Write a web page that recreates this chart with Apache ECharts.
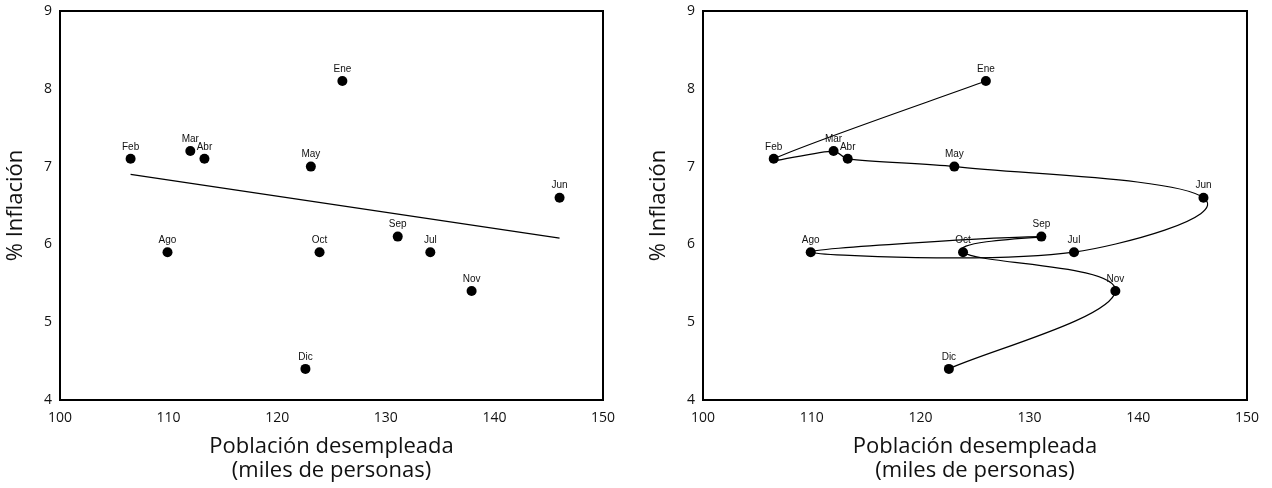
<!DOCTYPE html>
<html>
<head>
<meta charset="utf-8">
<script src="https://cdn.jsdelivr.net/npm/echarts@6/dist/echarts.min.js"></script>
<style>
  html, body { margin: 0; padding: 0; background: #fff; }
  #chart { width: 1272px; height: 488px; }
</style>
</head>
<body>
<div id="chart"></div>
<script>
// Monthly unemployment (thousands of people) and inflation (%)
const months = ['Ene', 'Feb', 'Mar', 'Abr', 'May', 'Jun', 'Jul', 'Ago', 'Sep', 'Oct', 'Nov', 'Dic'];
const unemployed = [126.0, 106.5, 112.0, 113.3, 123.1, 146.0, 134.1, 109.9, 131.1, 123.9, 137.9, 122.6];
const inflation = [8.1, 7.1, 7.2, 7.1, 7.0, 6.6, 5.9, 5.9, 6.1, 5.9, 5.4, 4.4];
// Fitted trend line endpoints [x, y]
const trendLine = [[106.5, 6.90], [146.0, 6.08]];

const xTitle = 'Población desempleada\n(miles de personas)';
const yTitle = '% Inflación';
const axisFont = '"Open Sans", Lato, sans-serif';
const pointFont = '"Liberation Sans", Arial, sans-serif';

const points = months.map((m, i) => ({ name: m, value: [unemployed[i], inflation[i]] }));

function makeX(gridIndex) {
  return {
    type: 'value', gridIndex, min: 100, max: 150, interval: 10,
    axisLine: { show: true, onZero: false, lineStyle: { color: '#000', width: 2 } },
    axisTick: { show: false },
    splitLine: { show: false },
    axisLabel: { color: '#111', fontFamily: axisFont, fontSize: 14, margin: 11 },
    name: xTitle, nameLocation: 'middle', nameGap: 35,
    nameTextStyle: { color: '#111', fontFamily: axisFont, fontSize: 22, lineHeight: 24 }
  };
}
function makeY(gridIndex) {
  return {
    type: 'value', gridIndex, min: 4, max: 9, interval: 1,
    axisLine: { show: true, onZero: false, lineStyle: { color: '#000', width: 2 } },
    axisTick: { show: false },
    splitLine: { show: false },
    axisLabel: { color: '#111', fontFamily: axisFont, fontSize: 14, margin: 8 },
    name: yTitle, nameLocation: 'middle', nameGap: 33,
    nameTextStyle: { color: '#111', fontFamily: axisFont, fontSize: 22 }
  };
}

const pointLabel = {
  show: true, position: 'top', distance: 2,
  formatter: p => p.name,
  color: '#111', fontFamily: pointFont, fontSize: 10
};

// Cardinal-spline segment from month i to month i+1, in pixel space.
// Handle lengths are limited to a share of the segment they shape.
const TENSION = 0.23;
const MAX_HANDLE = 0.3;
function handle(from, to, segLen) {
  let hx = (to[0] - from[0]) * TENSION, hy = (to[1] - from[1]) * TENSION;
  const len = Math.hypot(hx, hy), cap = segLen * MAX_HANDLE;
  if (len > cap && len > 0) { hx *= cap / len; hy *= cap / len; }
  return [hx, hy];
}
function renderPath(params, api) {
  const i = params.dataIndex;
  const n = months.length;
  if (i >= n - 1) return null;
  const clampIdx = j => Math.max(0, Math.min(n - 1, j));
  const c = j => api.coord([unemployed[clampIdx(j)], inflation[clampIdx(j)]]);
  const p0 = c(i - 1), p1 = c(i), p2 = c(i + 1), p3 = c(i + 2);
  const seg = Math.hypot(p2[0] - p1[0], p2[1] - p1[1]);
  const h1 = handle(p0, p2, seg), h2 = handle(p1, p3, seg);
  return {
    type: 'bezierCurve',
    shape: {
      x1: p1[0], y1: p1[1], x2: p2[0], y2: p2[1],
      cpx1: p1[0] + h1[0], cpy1: p1[1] + h1[1],
      cpx2: p2[0] - h2[0], cpy2: p2[1] - h2[1]
    },
    style: { stroke: '#000', fill: null, lineWidth: 1.2 }
  };
}

const chart = echarts.init(document.getElementById('chart'), null, { renderer: 'canvas' });
chart.setOption({
  backgroundColor: '#fff',
  animation: false,
  grid: [
    { left: 60, top: 11, width: 543, height: 389, show: true, borderColor: '#000', borderWidth: 2, backgroundColor: 'transparent' },
    { left: 703, top: 11, width: 544, height: 389, show: true, borderColor: '#000', borderWidth: 2, backgroundColor: 'transparent' }
  ],
  xAxis: [makeX(0), makeX(1)],
  yAxis: [makeY(0), makeY(1)],
  series: [
    {
      type: 'line', xAxisIndex: 0, yAxisIndex: 0,
      data: trendLine, showSymbol: false, silent: true,
      lineStyle: { color: '#000', width: 1.3 }
    },
    {
      type: 'scatter', xAxisIndex: 0, yAxisIndex: 0,
      data: points, symbol: 'circle', symbolSize: 10,
      itemStyle: { color: '#000', opacity: 1 },
      label: pointLabel
    },
    {
      type: 'custom', xAxisIndex: 1, yAxisIndex: 1,
      data: points, renderItem: renderPath, silent: true, z: 1
    },
    {
      type: 'scatter', xAxisIndex: 1, yAxisIndex: 1,
      data: points, symbol: 'circle', symbolSize: 10,
      itemStyle: { color: '#000', opacity: 1 },
      label: pointLabel, z: 3
    }
  ]
});
</script>
</body>
</html>
